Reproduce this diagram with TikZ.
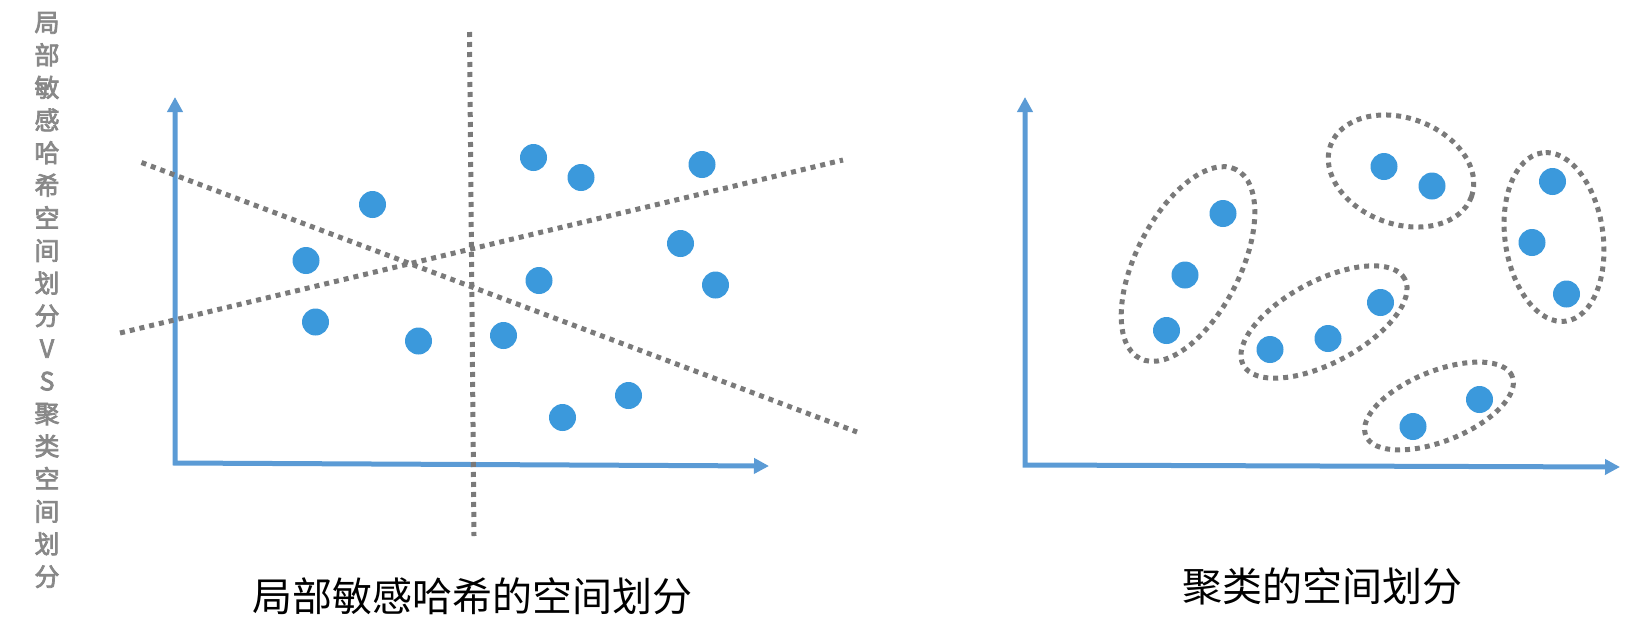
\documentclass[tikz,border=0pt]{standalone}
\usepackage{fontspec}
\usetikzlibrary{arrows.meta,shapes.geometric}
\newfontfamily\cjk{Noto Sans CJK SC}
\newfontfamily\cjkbold[FakeBold=3]{Noto Sans CJK SC}
\definecolor{dotblue}{HTML}{3B99DC}
\definecolor{axisblue}{HTML}{5B9BD5}
\definecolor{sepgray}{HTML}{7A7A7A}
\definecolor{titlegray}{HTML}{888888}
\begin{document}
\begin{tikzpicture}[x=1pt,y=-1pt,
  pt/.style={circle,fill=dotblue,inner sep=0pt,minimum size=27pt},
  axis/.style={draw=axisblue,line width=5pt,line join=miter,
    {Triangle[length=15pt,width=15pt]}-{Triangle[length=15pt,width=15pt]}},
  sepline/.style={draw=sepgray,line width=5pt,dash pattern=on 5pt off 5pt},
  grp/.style={ellipse,draw=sepgray,line width=5pt,dash pattern=on 5pt off 5pt,inner sep=0pt},
  caption/.style={font=\cjk\fontsize{40}{48}\selectfont,text=black,inner sep=0pt},
]
\useasboundingbox (0,0) rectangle (1635,627);

% side title
\node[font=\cjkbold\fontsize{25}{32.6}\selectfont,text=titlegray,align=center,inner sep=0pt] (side) at (47,300)
  {局\\部\\敏\\感\\哈\\希\\空\\间\\划\\分\\V\\S\\聚\\类\\空\\间\\划\\分};

% ---------- left panel ----------
\coordinate (Ltop) at (175,97);
\coordinate (Lo) at (175,463);
\coordinate (Lright) at (769,466);
\draw[axis] (Ltop) -- (Lo) -- (Lright);

\coordinate (vA) at (469.5,32);
\coordinate (vB) at (474,536);
\coordinate (dA) at (141.5,162.5);
\coordinate (dB) at (857,432);
\coordinate (uA) at (120,333);
\coordinate (uB) at (843,160);
\draw[sepline] (vA) -- (vB);
\draw[sepline] (dA) -- (dB);
\draw[sepline] (uA) -- (uB);

\node[pt] (l1) at (533.5,157.5) {};
\node[pt] (l2) at (581,177.5) {};
\node[pt] (l3) at (702,164.5) {};
\node[pt] (l4) at (372.5,204.5) {};
\node[pt] (l5) at (306,260.5) {};
\node[pt] (l6) at (680.5,243.5) {};
\node[pt] (l7) at (539,280.5) {};
\node[pt] (l8) at (715.5,285) {};
\node[pt] (l9) at (315.5,322) {};
\node[pt] (l10) at (418.5,341) {};
\node[pt] (l11) at (503.5,335.5) {};
\node[pt] (l12) at (628.5,395.5) {};
\node[pt] (l13) at (562.5,417.5) {};

\node[caption] (capL) at (472,596) {局部敏感哈希的空间划分};

% ---------- right panel ----------
\coordinate (Rtop) at (1025,97);
\coordinate (Ro) at (1025,465);
\coordinate (Rright) at (1620,467);
\draw[axis] (Rtop) -- (Ro) -- (Rright);

\node[grp,minimum width=212pt,minimum height=104pt,rotate=63] (gA) at (1188,264) {};
\node[grp,minimum width=150pt,minimum height=106pt,rotate=-20] (gB) at (1401,171) {};
\node[grp,minimum width=170pt,minimum height=98pt,rotate=98] (gC) at (1554,237) {};
\node[grp,minimum width=183pt,minimum height=82pt,rotate=28] (gD) at (1324,322) {};
\node[grp,minimum width=158pt,minimum height=70pt,rotate=22] (gE) at (1439,406) {};

\node[pt] (r1) at (1223,213.5) {};
\node[pt] (r2) at (1185,275) {};
\node[pt] (r3) at (1166.5,330.5) {};
\node[pt] (r4) at (1384,166.5) {};
\node[pt] (r5) at (1432,186) {};
\node[pt] (r6) at (1552.5,181.5) {};
\node[pt] (r7) at (1532,242.5) {};
\node[pt] (r8) at (1566.5,294) {};
\node[pt] (r9) at (1270,349.5) {};
\node[pt] (r10) at (1328,338.5) {};
\node[pt] (r11) at (1380.5,302.5) {};
\node[pt] (r12) at (1479.5,399.5) {};
\node[pt] (r13) at (1413,426.5) {};

\node[caption] (capR) at (1322,586) {聚类的空间划分};
\end{tikzpicture}
\end{document}
